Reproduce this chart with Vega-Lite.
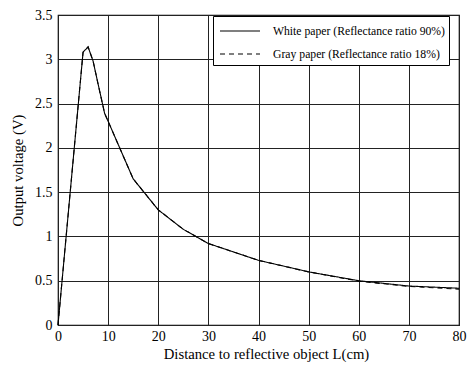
{
  "$schema": "https://vega.github.io/schema/vega-lite/v6.json",
  "autosize": {"type": "none"},
  "width": 401,
  "height": 310,
  "padding": {"left": 58, "top": 15, "right": 12, "bottom": 42},
  "background": "white",
  "config": {
    "font": "Liberation Serif",
    "view": {"stroke": "black", "strokeWidth": 1.2}
  },
  "data": {
    "values": [
      {"L": 0, "V": 0, "s": "White paper (Reflectance ratio 90%)"},
      {"L": 5, "V": 3.08, "s": "White paper (Reflectance ratio 90%)"},
      {"L": 6, "V": 3.14, "s": "White paper (Reflectance ratio 90%)"},
      {"L": 7, "V": 2.98, "s": "White paper (Reflectance ratio 90%)"},
      {"L": 8, "V": 2.72, "s": "White paper (Reflectance ratio 90%)"},
      {"L": 9.3, "V": 2.39, "s": "White paper (Reflectance ratio 90%)"},
      {"L": 10, "V": 2.3, "s": "White paper (Reflectance ratio 90%)"},
      {"L": 15, "V": 1.65, "s": "White paper (Reflectance ratio 90%)"},
      {"L": 20, "V": 1.3, "s": "White paper (Reflectance ratio 90%)"},
      {"L": 25, "V": 1.08, "s": "White paper (Reflectance ratio 90%)"},
      {"L": 30, "V": 0.92, "s": "White paper (Reflectance ratio 90%)"},
      {"L": 40, "V": 0.73, "s": "White paper (Reflectance ratio 90%)"},
      {"L": 50, "V": 0.6, "s": "White paper (Reflectance ratio 90%)"},
      {"L": 60, "V": 0.5, "s": "White paper (Reflectance ratio 90%)"},
      {"L": 70, "V": 0.44, "s": "White paper (Reflectance ratio 90%)"},
      {"L": 80, "V": 0.415, "s": "White paper (Reflectance ratio 90%)"},
      {"L": 0, "V": 0, "s": "Gray paper (Reflectance ratio 18%)"},
      {"L": 5, "V": 3.08, "s": "Gray paper (Reflectance ratio 18%)"},
      {"L": 6, "V": 3.14, "s": "Gray paper (Reflectance ratio 18%)"},
      {"L": 7, "V": 2.98, "s": "Gray paper (Reflectance ratio 18%)"},
      {"L": 8, "V": 2.72, "s": "Gray paper (Reflectance ratio 18%)"},
      {"L": 9.3, "V": 2.39, "s": "Gray paper (Reflectance ratio 18%)"},
      {"L": 10, "V": 2.3, "s": "Gray paper (Reflectance ratio 18%)"},
      {"L": 15, "V": 1.65, "s": "Gray paper (Reflectance ratio 18%)"},
      {"L": 20, "V": 1.3, "s": "Gray paper (Reflectance ratio 18%)"},
      {"L": 25, "V": 1.08, "s": "Gray paper (Reflectance ratio 18%)"},
      {"L": 30, "V": 0.92, "s": "Gray paper (Reflectance ratio 18%)"},
      {"L": 40, "V": 0.73, "s": "Gray paper (Reflectance ratio 18%)"},
      {"L": 50, "V": 0.6, "s": "Gray paper (Reflectance ratio 18%)"},
      {"L": 60, "V": 0.495, "s": "Gray paper (Reflectance ratio 18%)"},
      {"L": 70, "V": 0.435, "s": "Gray paper (Reflectance ratio 18%)"},
      {"L": 80, "V": 0.405, "s": "Gray paper (Reflectance ratio 18%)"}
    ]
  },
  "mark": {"type": "line", "color": "black", "strokeWidth": 1.1},
  "encoding": {
    "x": {
      "field": "L", "type": "quantitative",
      "scale": {"domain": [0, 80], "nice": false, "zero": true},
      "axis": {
        "title": "Distance to reflective object L(cm)",
        "values": [0, 10, 20, 30, 40, 50, 60, 70, 80],
        "format": "d",
        "grid": true, "gridColor": "#222", "gridOpacity": 1, "gridWidth": 1,
        "domain": false, "ticks": false, "labelFlush": false, "labelOverlap": false,
        "labelFontSize": 14, "labelColor": "black", "labelPadding": 4,
        "titleFontSize": 14.7, "titleFontWeight": "normal", "titleColor": "black", "titlePadding": 3,
        "titleX": 208, "titleAlign": "center"
      }
    },
    "y": {
      "field": "V", "type": "quantitative",
      "scale": {"domain": [0, 3.5], "nice": false},
      "axis": {
        "title": "Output voltage (V)",
        "values": [0, 0.5, 1, 1.5, 2, 2.5, 3, 3.5],
        "format": "~g",
        "grid": true, "gridColor": "#222", "gridOpacity": 1, "gridWidth": 1,
        "domain": false, "ticks": false, "labelFlush": false, "labelOverlap": false,
        "labelFontSize": 14, "labelColor": "black", "labelPadding": 6,
        "titleFontSize": 14.7, "titleFontWeight": "normal", "titleColor": "black", "titlePadding": 9
      }
    },
    "strokeDash": {
      "field": "s", "type": "nominal",
      "scale": {
        "domain": ["White paper (Reflectance ratio 90%)", "Gray paper (Reflectance ratio 18%)"],
        "range": [[1, 0], [5, 4]]
      },
      "legend": {
        "title": null,
        "orient": "none",
        "legendX": 155,
        "legendY": 1,
        "fillColor": "white",
        "strokeColor": "black",
        "padding": 4,
        "symbolType": "M-2,0H2",
        "symbolSize": 400,
        "symbolOffset": 12,
        "symbolStrokeColor": "black",
        "symbolStrokeWidth": 1.1,
        "labelFontSize": 11.7,
        "labelColor": "black",
        "labelOffset": 22,
        "labelLimit": 300,
        "rowPadding": 5
      }
    }
  }
}
